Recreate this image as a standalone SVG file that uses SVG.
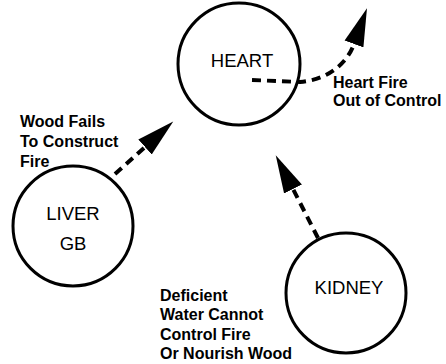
<svg xmlns="http://www.w3.org/2000/svg" width="446" height="364" viewBox="0 0 446 364">
<style>
.node{fill:#fff;stroke:#000;stroke-width:3}
.nl{font-family:"Liberation Sans",Arial,sans-serif;font-size:18.5px;fill:#000;text-anchor:middle}
.lbl{font-family:"Liberation Sans",Arial,sans-serif;font-size:16px;font-weight:bold;fill:#000}
.conn{fill:none;stroke:#000;stroke-width:4;stroke-dasharray:9 6}
</style>
<defs>
<marker id="ah" markerUnits="userSpaceOnUse" markerWidth="40" markerHeight="22" viewBox="0 0 40 22" refX="0" refY="11" orient="auto">
<path d="M0,1 L38,11 L0,21 z" fill="#000"/>
</marker>
</defs>
<rect width="446" height="364" fill="#fff"/>
<g id="heart">
<circle class="node" cx="239" cy="64" r="61"/>
<text class="nl" x="242" y="67">HEART</text>
</g>
<g id="liver">
<circle class="node" cx="73" cy="226" r="60"/>
<text class="nl" x="73" y="220">LIVER</text>
<text class="nl" x="73" y="250">GB</text>
</g>
<g id="kidney">
<circle class="node" cx="346" cy="293" r="60"/>
<text class="nl" x="349" y="294">KIDNEY</text>
</g>
<g id="connectors">
<path class="conn" d="M115,174 L145,147" marker-end="url(#ah)"/>
<path class="conn" d="M318,238 L293,189" marker-end="url(#ah)"/>
<path class="conn" d="M252,80 L300,82 C325,80 346,66 354,44" marker-end="url(#ah)"/>
</g>
<g id="labels">
<text class="lbl" x="20" y="127">Wood Fails</text>
<text class="lbl" x="20" y="147">To Construct</text>
<text class="lbl" x="20" y="167">Fire</text>
<text class="lbl" x="333" y="88">Heart Fire</text>
<text class="lbl" x="333" y="106">Out of Control</text>
<text class="lbl" x="160" y="301">Deficient</text>
<text class="lbl" x="160" y="320">Water Cannot</text>
<text class="lbl" x="160" y="340">Control Fire</text>
<text class="lbl" x="160" y="359">Or Nourish Wood</text>
</g>
</svg>
